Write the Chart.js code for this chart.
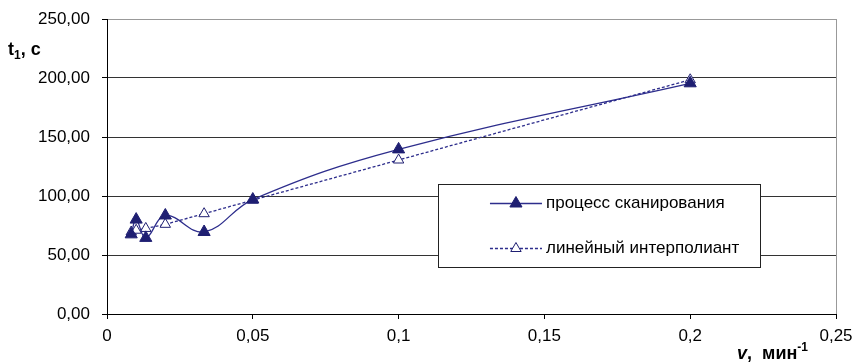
<!DOCTYPE html>
<html>
<head>
<meta charset="utf-8">
<script src="https://cdn.jsdelivr.net/npm/chart.js@4.4.0/dist/chart.umd.min.js"></script>
<style>
  html, body { margin: 0; padding: 0; background: #fff; }
  #wrap { width: 856px; height: 362px; }
</style>
</head>
<body>
<div id="wrap"><canvas id="chart"></canvas></div>
<script>
// scan speed v = 1/T, min^-1
var speeds = [0.0083, 0.01, 0.0133, 0.02, 0.0333, 0.05, 0.1, 0.2];
var scanTimes = [67.5, 80, 64.5, 83.5, 69.5, 97, 139.5, 195.5];
var linearTimes = [69.5, 71, 72.5, 76, 85, 96.5, 130.5, 198.5];

var xTicks = [0, 0.05, 0.1, 0.15, 0.2, 0.25];
var xTickLabels = ['0', '0,05', '0,1', '0,15', '0,2', '0,25'];
var yTicks = [0, 50, 100, 150, 200, 250];
var yTickLabels = ['0,00', '50,00', '100,00', '150,00', '200,00', '250,00'];
var seriesNames = ['процесс сканирования', 'линейный интерполиант'];

var FONT = '"Liberation Sans", Arial, sans-serif';
var NAVY = '#1f1f72';
var LINE = '#2d2d8c';

function points(ys) {
  return speeds.map(function (x, i) { return { x: x, y: ys[i] }; });
}

// draws a row of text pieces with their own fonts and baseline shifts
function drawRuns(ctx, x, y, runs) {
  runs.forEach(function (r) {
    ctx.font = r.font;
    ctx.fillText(r.text, x, y + (r.dy || 0));
    x += ctx.measureText(r.text).width + (r.gap || 0);
  });
}

function runsWidth(ctx, runs) {
  var w = 0;
  runs.forEach(function (r) {
    ctx.font = r.font;
    w += ctx.measureText(r.text).width + (r.gap || 0);
  });
  return w;
}

var extras = {
  id: 'extras',
  afterDraw: function (chart) {
    var ctx = chart.ctx;
    var area = chart.chartArea;
    ctx.save();
    ctx.fillStyle = '#000';
    ctx.textAlign = 'left';
    ctx.textBaseline = 'alphabetic';

    // axis titles
    drawRuns(ctx, 8, 55, [
      { text: 't', font: 'bold 18px ' + FONT },
      { text: '1', font: 'bold 12px ' + FONT, dy: 4 },
      { text: ', с', font: 'bold 18px ' + FONT }
    ]);
    var xt = [
      { text: 'v', font: 'italic bold 18px ' + FONT },
      { text: ',  мин', font: 'bold 18px ' + FONT },
      { text: '-1', font: 'bold 12px ' + FONT, dy: -8 }
    ];
    drawRuns(ctx, 808 - runsWidth(ctx, xt), 359, xt);

    // legend box
    var bx = area.left + area.width * 0.454;
    var by = area.top + area.height * 0.559;
    var bw = area.width * 0.442;
    var bh = area.height * 0.282;
    ctx.fillStyle = '#fff';
    ctx.fillRect(bx, by, bw, bh);
    ctx.strokeStyle = '#222';
    ctx.lineWidth = 1;
    ctx.strokeRect(Math.round(bx) + 0.5, Math.round(by) + 0.5, Math.round(bw), Math.round(bh));

    chart.data.datasets.forEach(function (ds, i) {
      var y = Math.round(by + 19 + i * 45) + 0.5;
      var x0 = bx + 52, x1 = bx + 104;
      ctx.strokeStyle = ds.borderColor;
      ctx.lineWidth = ds.borderWidth;
      ctx.setLineDash(ds.borderDash || []);
      ctx.beginPath();
      ctx.moveTo(x0, y);
      ctx.lineTo(x1, y);
      ctx.stroke();
      ctx.setLineDash([]);
      ctx.fillStyle = ds.pointBackgroundColor;
      ctx.strokeStyle = ds.pointBorderColor;
      ctx.lineWidth = ds.pointBorderWidth;
      Chart.helpers.drawPoint(ctx, {
        pointStyle: 'triangle', radius: ds.pointRadius, rotation: 0, borderWidth: ds.pointBorderWidth
      }, (x0 + x1) / 2, y);
      ctx.fillStyle = '#000';
      ctx.font = '17px ' + FONT;
      ctx.textBaseline = 'middle';
      ctx.fillText(ds.label, x1 + 4, y);
    });
    ctx.restore();
  }
};

new Chart(document.getElementById('chart'), {
  type: 'scatter',
  data: {
    datasets: [{
      label: seriesNames[0],
      data: points(scanTimes),
      showLine: true,
      tension: 0.4,
      borderColor: LINE,
      borderWidth: 1.3,
      pointStyle: 'triangle',
      pointRadius: 7,
      pointBackgroundColor: NAVY,
      pointBorderColor: NAVY,
      pointBorderWidth: 1
    }, {
      label: seriesNames[1],
      data: points(linearTimes),
      showLine: true,
      tension: 0,
      borderColor: LINE,
      borderWidth: 1.3,
      borderDash: [3, 2],
      pointStyle: 'triangle',
      pointRadius: 6,
      pointBackgroundColor: '#fff',
      pointBorderColor: NAVY,
      pointBorderWidth: 1
    }]
  },
  options: {
    responsive: true,
    maintainAspectRatio: false,
    animation: false,
    layout: { padding: { top: 19, right: 20, left: 0, bottom: 0 } },
    plugins: {
      legend: { display: false },
      tooltip: { enabled: false }
    },
    scales: {
      x: {
        type: 'linear',
        min: 0,
        max: 0.25,
        afterBuildTicks: function (scale) {
          scale.ticks = xTicks.map(function (v) { return { value: v }; });
        },
        afterFit: function (scale) {
          scale.height = 48;
          scale.paddingLeft = 0;
          scale.paddingRight = 0;
        },
        ticks: {
          color: '#000',
          padding: 7,
          maxRotation: 0,
          font: { family: FONT, size: 17 },
          callback: function (v, i) { return xTickLabels[i]; }
        },
        grid: {
          color: function (c) {
            return c.tick && c.tick.value === 0.25 ? '#999' : 'rgba(0,0,0,0)';
          },
          tickColor: '#000',
          tickLength: 5
        },
        border: { color: '#000', width: 1 }
      },
      y: {
        min: 0,
        max: 250,
        afterBuildTicks: function (scale) {
          scale.ticks = yTicks.map(function (v) { return { value: v }; });
        },
        afterFit: function (scale) {
          scale.width = 107;
          scale.paddingTop = 0;
          scale.paddingBottom = 0;
        },
        ticks: {
          color: '#000',
          padding: 12,
          font: { family: FONT, size: 17 },
          callback: function (v, i) { return yTickLabels[i]; }
        },
        grid: {
          color: function (c) {
            return c.tick && c.tick.value === 250 ? '#999' : '#333';
          },
          tickColor: '#000',
          tickLength: 5
        },
        border: { color: '#000', width: 1 }
      }
    }
  },
  plugins: [extras]
});
</script>
</body>
</html>
